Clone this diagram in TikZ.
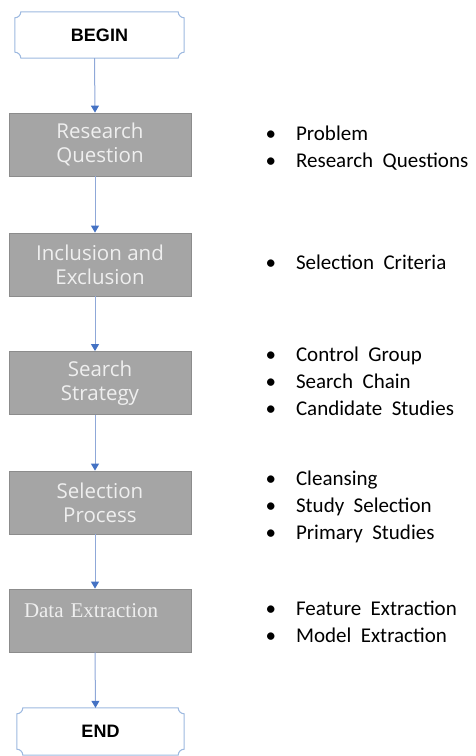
\documentclass[tikz,border=0pt]{standalone}
\usepackage{fontspec}
\usetikzlibrary{arrows.meta,positioning}
\newfontfamily\opensans{Open Sans}
\newfontfamily\carlito{Carlito}
\newfontfamily\libsans{Liberation Sans}
\newfontfamily\libserif{Liberation Serif}
\definecolor{boxfill}{HTML}{A5A5A5}
\definecolor{boxedge}{HTML}{8C8C8C}
\definecolor{boxtext}{HTML}{EFEFEF}
\definecolor{flowline}{HTML}{8FA8D8}
\definecolor{flowhead}{HTML}{4472C4}
\definecolor{termedge}{HTML}{9DB9E0}
\tikzset{
  procbox/.style={draw=boxedge, fill=boxfill, line width=0.8pt, minimum width=182pt, minimum height=63pt,
    align=center, text=boxtext, font=\opensans\fontsize{20.5}{24}\selectfont},
  term/.style={minimum width=169pt, minimum height=46pt, font=\libsans\bfseries\fontsize{18}{20}\selectfont},
  termline/.style={draw=termedge, fill=white, line width=1pt},
  flow/.style={draw=flowline, line width=1pt, -{Triangle[width=8pt,length=7pt,color=flowhead]}},
  notes/.style={inner sep=0pt, font=\carlito\fontsize{21}{27}\selectfont}
}
% frame with hollow corners around a terminal node
\newcommand{\termframe}[1]{%
  \draw[termline] ([xshift=6pt]#1.north west) -- ([xshift=-6pt]#1.north east) arc (180:270:6pt)
    -- ([yshift=6pt]#1.south east) arc (90:180:6pt)
    -- ([xshift=6pt]#1.south west) arc (0:90:6pt)
    -- ([yshift=-6pt]#1.north west) arc (270:360:6pt) -- cycle;}
% bullet list with wide word spaces
\newcommand{\bullist}[1]{\spaceskip=0.45em\relax\begin{tabular}{@{}l@{\hspace{20pt}}l@{}}#1\end{tabular}}
\begin{document}
\begin{tikzpicture}[x=1pt,y=1pt]
\useasboundingbox (0,0) rectangle (475,756);
% terminals
\node[term] (tbeg) at (99.5,721){};
\termframe{tbeg}
\node[term] at (tbeg){BEGIN};
\node[term, minimum width=167pt, minimum height=47pt] (tend) at (100.5,24.5){};
\termframe{tend}
\node[term] at (tend){END};
% steps
\node[procbox] (rq) at (100,611.5){Research\\Question};
\node[procbox] (ie) at (100,491.5){Inclusion and\\Exclusion};
\node[procbox] (ss) at (100,373){Search\\Strategy};
\node[procbox] (sp) at (100,253.5){Selection\\Process};
\node[procbox, align=left, text width=152pt, inner xsep=15pt, inner ysep=0pt,
  text height=29pt, text depth=34pt, font=\libserif\fontsize{21}{24}\selectfont] (de) at (100,135.5){Data Extraction};
% arrows
\draw[flow] ([xshift=-5pt]tbeg.south) -- ([xshift=-5pt]rq.north);
\draw[flow] ([xshift=-5pt]rq.south) -- ([xshift=-5pt]ie.north);
\draw[flow] ([xshift=-5pt]ie.south) -- ([xshift=-5pt]ss.north);
\draw[flow] ([xshift=-5pt]ss.south) -- ([xshift=-5pt]sp.north);
\draw[flow] ([xshift=-5pt]sp.south) -- ([xshift=-5pt]de.north);
\draw[flow] ([xshift=-5pt]de.south) -- ([xshift=-5pt]tend.north);
% notes
\node[notes, right=74pt of rq, yshift=-4pt] (nrq){\bullist{\textbullet & Problem\\ \textbullet & Research Questions}};
\node[notes, right=74pt of ie] (nie){\bullist{\textbullet & Selection Criteria}};
\node[notes, right=74pt of ss] (nss){\bullist{\textbullet & Control Group\\ \textbullet & Search Chain\\ \textbullet & Candidate Studies}};
\node[notes, right=74pt of sp, yshift=-5pt] (nsp){\bullist{\textbullet & Cleansing\\ \textbullet & Study Selection\\ \textbullet & Primary Studies}};
\node[notes, right=74pt of de, yshift=-3pt] (nde){\bullist{\textbullet & Feature Extraction\\ \textbullet & Model Extraction}};
\end{tikzpicture}
\end{document}
